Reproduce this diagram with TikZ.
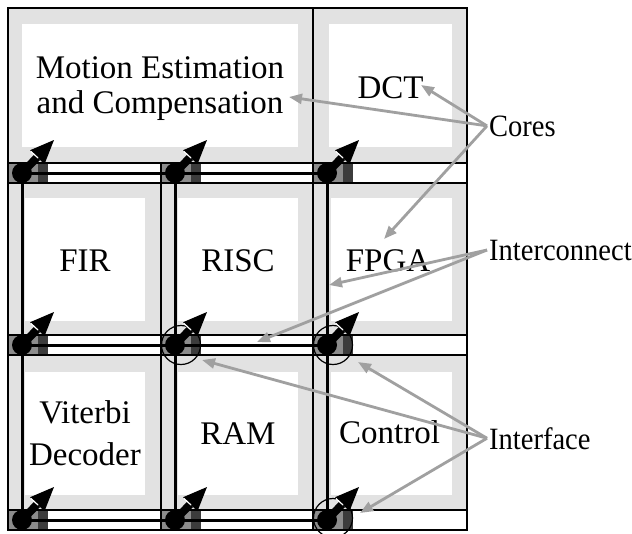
\documentclass[tikz,border=0pt]{standalone}
\usepackage{fontspec}
\setmainfont{Liberation Serif}
\newfontfamily\notefont{Liberation Serif}[FakeStretch=0.92]
\usetikzlibrary{arrows.meta,calc}
\definecolor{tilegray}{RGB}{226,226,226}
\definecolor{portgray}{RGB}{140,140,140}
\definecolor{portdark}{RGB}{60,60,60}
\definecolor{notegray}{RGB}{160,160,160}
\begin{document}
\begin{tikzpicture}[x=1pt,y=-1pt,
  grid/.style={line width=1.9pt},
  bus/.style={line width=3pt},
  dot/.style={circle,fill=black,inner sep=0pt,minimum size=20pt},
  ring/.style={circle,draw=black,line width=1.2pt,inner sep=0pt,minimum size=39pt},
  corelabel/.style={font=\fontsize{33}{35}\selectfont,inner sep=0pt,align=center},
  notelabel/.style={font=\notefont\fontsize{31}{33}\selectfont,inner sep=2pt,anchor=base west},
  note/.style={draw=notegray,line width=2.8pt,-{Triangle[length=13pt,width=10pt]}},
]
\useasboundingbox (0,0) rectangle (632,533);

% core tiles: grey frame with white core area
\fill[tilegray] (8,8) rectangle (467,163);
\fill[tilegray] (8,183) rectangle (467,335);
\fill[tilegray] (8,355) rectangle (467,510);
\fill[white] (22,24) rectangle (298,147);
\fill[white] (329,24) rectangle (452,147);
\foreach \y in {198,372} {
  \fill[white] (25,\y) rectangle (145,\y+123);
  \fill[white] (178,\y) rectangle (298,\y+123);
  \fill[white] (331,\y) rectangle (452,\y+123);
}

% interface blocks in the routing channels
\foreach \s in {163,335,510} \foreach \x in {8,161,313} {
  \fill[portgray] (\x,\s) rectangle (\x+30,\s+20);
  \fill[portdark] (\x+30,\s) rectangle (\x+40,\s+20);
}

% tile and channel outlines
\draw[grid] (8,8) rectangle (467,530);
\draw[grid] (313,8) -- (313,530);
\draw[grid] (161,163) -- (161,530);
\foreach \s in {163,335,510} {
  \draw[grid] (8,\s) -- (467,\s);
  \draw[grid] (8,\s+20) -- (467,\s+20);
}

% interface points
\foreach \r/\y in {1/173,2/345,3/520} \foreach \c/\x in {1/22,2/175,3/327}
  \coordinate (p\r\c) at (\x,\y);

% interconnect wires
\foreach \r in {1,2,3} \draw[bus] (p\r1) -- (p\r3);
\foreach \c in {1,2,3} \draw[bus] (p1\c) -- (p3\c);

% highlighted interfaces
\node[ring] (ring22) at ($(p22)+(6,0)$) {};
\node[ring] (ring23) at ($(p23)+(6,0)$) {};
\node[ring] (ring33) at ($(p33)+(6,-2)$) {};

% interface dots with arrows into the cores
\foreach \r in {1,2,3} \foreach \c in {1,2,3} {
  \node[dot] (port\r\c) at (p\r\c) {};
  \draw[line width=8pt] (port\r\c.center) -- ++(15.3,-15.8);
  \fill (port\r\c.center) ++(32,-33) -- ++(-23.9,10.2) -- ++(14.4,14) -- cycle;
  \draw[white,line width=1.2pt] (port\r\c.center) ++(9,-21.5) -- ++(7,6.5);
}

% core names
\node[corelabel] (me) at (160,89) {Motion Estimation\\and Compensation};
\node[corelabel,anchor=base] (dct) at (390.5,98) {DCT};
\node[corelabel,anchor=base] (fir) at (85,271) {FIR};
\node[corelabel,anchor=base] (risc) at (238,271) {RISC};
\node[corelabel,anchor=base] (fpga) at (388,271) {FPGA};
\node[corelabel,font=\fontsize{33}{42}\selectfont] (vit) at (85,433) {Viterbi\\Decoder};
\node[corelabel,anchor=base] (ram) at (238,444) {RAM};
\node[corelabel,anchor=base] (ctrl) at (389.5,443) {Control};

% annotations
\node[notelabel] (cores) at (487,136) {Cores};
\node[notelabel] (icn) at (487,260) {Interconnect};
\node[notelabel] (ifc) at (487,449) {Interface};

\coordinate (tME) at (289,97);
\coordinate (tDCT) at (421,85);
\coordinate (tFPGA) at (384,239);
\coordinate (tWireV) at (329,285);
\coordinate (tWireH) at (257,342);
\coordinate (tIf1) at (202,360);
\coordinate (tIf2) at (358,362);
\coordinate (tIf3) at (360,513);

\draw[note] (cores.west) -- (tME);
\draw[note] (cores.west) -- (tDCT);
\draw[note] (cores.west) -- (tFPGA);
\draw[note] (icn.west) -- (tWireV);
\draw[note] (icn.west) -- (tWireH);
\draw[note] (ifc.west) -- (tIf1);
\draw[note] (ifc.west) -- (tIf2);
\draw[note] (ifc.west) -- (tIf3);
\end{tikzpicture}
\end{document}
